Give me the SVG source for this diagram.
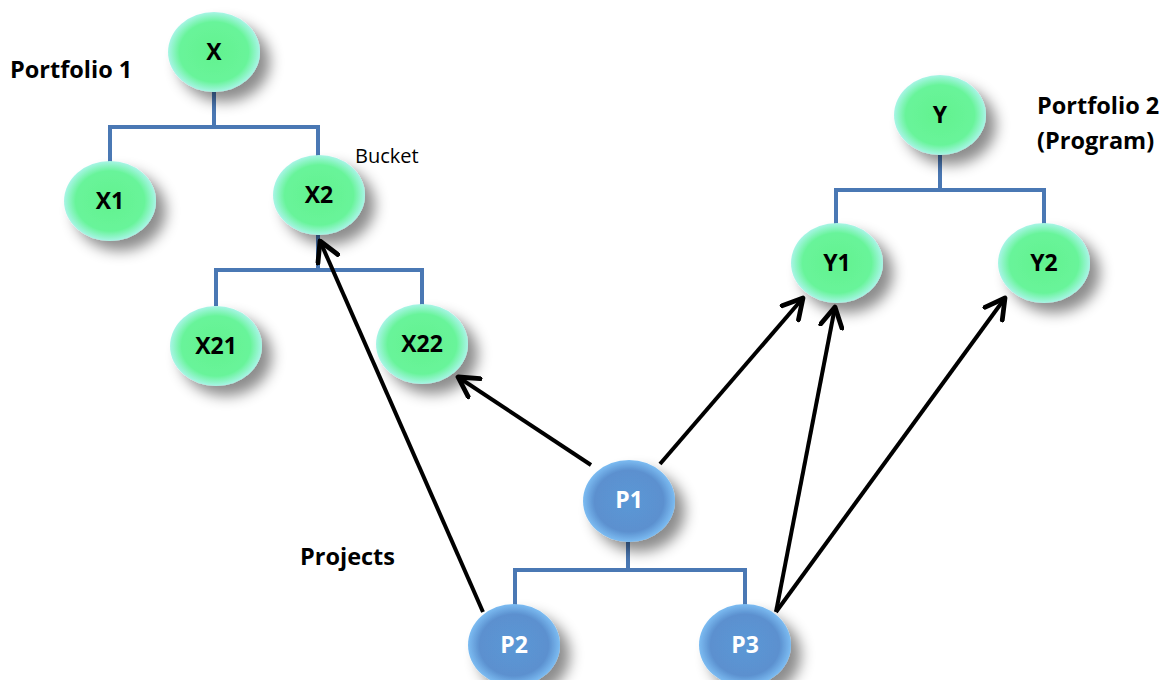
<svg xmlns="http://www.w3.org/2000/svg" width="1168" height="680" viewBox="0 0 1168 680">
<defs>
<radialGradient id="gG" cx="50%" cy="50%" r="50%">
<stop offset="0%" stop-color="#63f28f"/>
<stop offset="75%" stop-color="#68f49a"/>
<stop offset="100%" stop-color="#a8f5e6"/>
</radialGradient>
<radialGradient id="gB" cx="50%" cy="50%" r="50%">
<stop offset="0%" stop-color="#5a98d6"/>
<stop offset="75%" stop-color="#5b90cf"/>
<stop offset="100%" stop-color="#7cbcf2"/>
</radialGradient>
<filter id="sh" x="-40%" y="-40%" width="190%" height="190%">
<feDropShadow dx="10" dy="10" stdDeviation="7" flood-color="#000" flood-opacity="0.45"/>
</filter>
<marker id="ah" viewBox="0 0 12 12" refX="10" refY="6" markerWidth="6.5" markerHeight="6.5" orient="auto" markerUnits="strokeWidth">
<polyline points="1,1 10,6 1,11" fill="none" stroke="#000" stroke-width="2.2" stroke-linecap="round" stroke-linejoin="round"/>
</marker>
<style>
.tree{fill:none;stroke:#4a78b4;stroke-width:4}
.arr{fill:none;stroke:#000;stroke-width:4;marker-end:url(#ah)}
.gn{fill:url(#gG);filter:url(#sh)}
.bn{fill:url(#gB);filter:url(#sh)}
.t{font-family:"Open Sans","Liberation Sans",sans-serif;font-weight:bold;font-size:23px;text-anchor:middle}
.tb{fill:#000}
.tw{fill:#fff}
.lbl{font-family:"Open Sans","Liberation Sans",sans-serif;font-weight:bold;font-size:23.5px;fill:#000}
.lr{font-family:"Open Sans","Liberation Sans",sans-serif;font-size:20px;fill:#000}
</style>
</defs>
<rect width="1168" height="680" fill="#fff"/>
<g id="connectors">
<path class="tree" d="M214,92 V127 M110,127 H318 M110,125 V162 M318,125 V157"/>
<path class="tree" d="M318,235 V270 M216,270 H422 M216,268 V306 M422,268 V306"/>
<path class="tree" d="M940,155 V190 M836,190 H1044 M836,188 V225 M1044,188 V225"/>
<path class="tree" d="M628,542 V570 M515,570 H745 M515,568 V606 M745,568 V606"/>
</g>
<g id="X"><ellipse class="gn" cx="214" cy="52" rx="46" ry="40"/><text class="t tb" x="214" y="60">X</text></g>
<g id="X1"><ellipse class="gn" cx="110" cy="201" rx="46" ry="40"/><text class="t tb" x="110" y="209">X1</text></g>
<g id="X2"><ellipse class="gn" cx="319" cy="195" rx="46" ry="40"/><text class="t tb" x="319" y="203">X2</text></g>
<g id="X21"><ellipse class="gn" cx="216" cy="346" rx="46" ry="40"/><text class="t tb" x="216" y="354">X21</text></g>
<g id="X22"><ellipse class="gn" cx="422" cy="344" rx="46" ry="40"/><text class="t tb" x="422" y="352">X22</text></g>
<g id="Y"><ellipse class="gn" cx="940" cy="115" rx="46" ry="40"/><text class="t tb" x="940" y="123">Y</text></g>
<g id="Y1"><ellipse class="gn" cx="837" cy="263" rx="46" ry="40"/><text class="t tb" x="837" y="271">Y1</text></g>
<g id="Y2"><ellipse class="gn" cx="1044" cy="263" rx="46" ry="40"/><text class="t tb" x="1044" y="271">Y2</text></g>
<g id="P1"><ellipse class="bn" cx="629" cy="501" rx="46" ry="41"/><text class="t tw" x="629" y="508">P1</text></g>
<g id="P2"><ellipse class="bn" cx="514" cy="645" rx="46" ry="41"/><text class="t tw" x="514" y="653">P2</text></g>
<g id="P3"><ellipse class="bn" cx="745" cy="645" rx="46" ry="41"/><text class="t tw" x="745" y="653">P3</text></g>
<g id="arrows">
<line class="arr" x1="591" y1="465" x2="458" y2="377"/>
<line class="arr" x1="660" y1="464" x2="803" y2="298"/>
<line class="arr" x1="483" y1="612" x2="320" y2="241"/>
<line class="arr" x1="776" y1="612" x2="835" y2="307"/>
<line class="arr" x1="776" y1="612" x2="1005" y2="298"/>
</g>
<g id="labels">
<text class="lbl" x="10" y="78">Portfolio 1</text>
<text class="lbl" x="1037" y="114">Portfolio 2</text>
<text class="lbl" x="1037" y="149">(Program)</text>
<text class="lr" x="355" y="163">Bucket</text>
<text class="lbl" x="300" y="565">Projects</text>
</g>
</svg>
